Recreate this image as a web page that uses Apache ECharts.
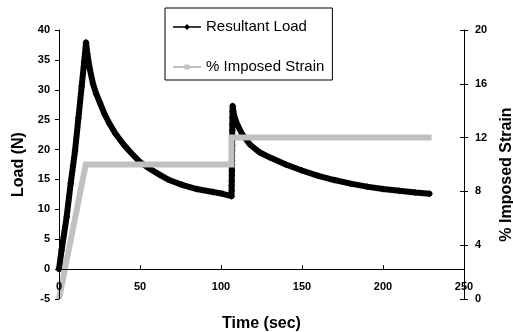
<!DOCTYPE html>
<html>
<head>
<meta charset="utf-8">
<script src="https://cdn.jsdelivr.net/npm/echarts@6/dist/echarts.min.js"></script>
<style>html,body{margin:0;padding:0;background:#fff}#c{width:513px;height:332px}</style>
</head>
<body>
<div id="c"></div>
<script>
// Resultant Load (N) vs time (sec)
const loadTimes = [0, 1.6, 4.7, 7.2, 9.9, 12, 14, 15.5, 16.7, 17.5, 19, 21, 23, 25.3, 28, 31, 35, 40, 45, 50, 56, 62, 68, 76, 85, 95, 101, 106.5,
  106.55, 106.6, 106.65, 106.7, 106.72, 106.75, 106.78, 106.8, 106.83, 106.86, 106.9, 106.93, 106.96, 107.0, 107.05, 107.1, 107.2,
  108, 110, 113, 118, 124, 130, 140, 150, 160, 170, 180, 190, 200, 210, 220, 228.6];
const loadValues = [0, 3.2, 8.7, 14.3, 19.8, 25.3, 30.6, 34.6, 37.9, 36.0, 33.5, 31.0, 29.3, 27.8, 26.0, 24.4, 22.6, 20.8, 19.3, 17.9, 16.8, 15.8, 14.9, 14.1, 13.4, 12.9, 12.6, 12.2,
  13.1, 14.0, 14.8, 15.7, 16.5, 17.4, 18.2, 19.0, 19.9, 20.7, 21.6, 22.4, 23.2, 24.2, 25.3, 26.4, 27.3,
  25.8, 24.2, 22.6, 20.8, 19.5, 18.7, 17.5, 16.5, 15.6, 14.9, 14.3, 13.8, 13.4, 13.1, 12.8, 12.6];
// % Imposed Strain vs time (sec)
const strainTimes = [0, 16.5, 106.5, 106.5, 230];
const strainValues = [0, 10, 10, 12, 12];

const seriesNames = ['Resultant Load', '% Imposed Strain'];
const axisTitles = { x: 'Time (sec)', left: 'Load (N)', right: '% Imposed Strain' };

const FONT = "'Liberation Sans', Arial, sans-serif";
const loadData = loadTimes.map((t, i) => [t, loadValues[i]]);
const strainData = strainTimes.map((t, i) => [t, strainValues[i]]);

const W = 513, H = 332;
const GRID = { left: 59, right: 49, top: 30, bottom: 33 };
const loadMin = -5, loadMax = 40;
// place the time axis where Load = 0 (as in the reference)
const plotH = H - GRID.top - GRID.bottom;
const xAxisOffset = -plotH * (0 - loadMin) / (loadMax - loadMin);

const chart = echarts.init(document.getElementById('c'), null, { renderer: 'canvas' });
const tickLabel = { color: '#000', fontFamily: FONT, fontSize: 11, fontWeight: 'bold' };
chart.setOption({
  animation: false,
  backgroundColor: '#fff',
  textStyle: { fontFamily: FONT },
  grid: Object.assign({ containLabel: false, outerBoundsMode: 'none' }, GRID),
  legend: {
    orient: 'vertical', left: 165, top: 8,
    backgroundColor: '#fff', borderColor: '#000', borderWidth: 1,
    padding: [11, 8, 5, 8], itemGap: 24, itemWidth: 28, itemHeight: 10,
    textStyle: { fontSize: 15, fontFamily: FONT, color: '#000', lineHeight: 16 },
    data: [
      { name: seriesNames[0], icon: 'path://M0,4.25H28V5.75H0Z M14,2L17,5L14,8L11,5Z' },
      { name: seriesNames[1], icon: 'path://M0,4H28V6H0Z M11.5,2.5H16.5V7.5H11.5Z' }
    ]
  },
  xAxis: {
    type: 'value', min: 0, max: 250, interval: 50, position: 'bottom', offset: xAxisOffset, z: 5,
    name: axisTitles.x, nameLocation: 'middle', nameGap: 46,
    nameTextStyle: { color: '#000', fontFamily: FONT, fontSize: 16, fontWeight: 'bold' },
    axisLine: { show: true, onZero: false, lineStyle: { color: '#000', width: 1 } },
    axisTick: { show: true, inside: true, length: 4, lineStyle: { color: '#000' } },
    axisLabel: Object.assign({ margin: 12, hideOverlap: false }, tickLabel),
    splitLine: { show: false }
  },
  yAxis: [
    {
      type: 'value', min: loadMin, max: loadMax, interval: 5, position: 'left', z: 5,
      name: axisTitles.left, nameLocation: 'middle', nameGap: 27, nameRotate: 90,
      nameTextStyle: { color: '#000', fontFamily: FONT, fontSize: 16, fontWeight: 'bold' },
      axisLine: { show: true, onZero: false, lineStyle: { color: '#000', width: 1 } },
      axisTick: { show: true, inside: false, length: 4, lineStyle: { color: '#000' } },
      axisLabel: Object.assign({ margin: 9 }, tickLabel),
      splitLine: { show: false }
    },
    {
      type: 'value', min: 0, max: 20, interval: 4, position: 'right',
      name: axisTitles.right, nameLocation: 'middle', nameGap: 32, nameRotate: 90,
      nameTextStyle: { color: '#000', fontFamily: FONT, fontSize: 16, fontWeight: 'bold', padding: [0, 20, 0, 0] },
      axisLine: { show: true, onZero: false, lineStyle: { color: '#000', width: 1 } },
      axisTick: { show: true, inside: false, length: 4, lineStyle: { color: '#000' } },
      axisLabel: Object.assign({ margin: 11 }, tickLabel),
      splitLine: { show: false }
    },
    {
      type: 'value', min: 0, max: 20, interval: 4, position: 'right',
      axisLine: { show: false, onZero: false },
      axisTick: { show: true, inside: true, length: 4, lineStyle: { color: '#000' } },
      axisLabel: { show: false },
      splitLine: { show: false }
    }
  ],
  series: [
    {
      name: seriesNames[0], type: 'line', yAxisIndex: 0, data: loadData,
      symbol: 'diamond', symbolSize: 7, showSymbol: true,
      itemStyle: { color: '#000' },
      lineStyle: { color: '#000', width: 6, join: 'round', cap: 'round' },
      clip: false, z: 2
    },
    {
      name: seriesNames[1], type: 'line', yAxisIndex: 1, data: strainData,
      symbol: 'none', showSymbol: false,
      itemStyle: { color: '#c0c0c0' },
      lineStyle: { color: '#c0c0c0', width: 6, join: 'miter', cap: 'butt' },
      clip: false, z: 3
    }
  ]
});
</script>
</body>
</html>
